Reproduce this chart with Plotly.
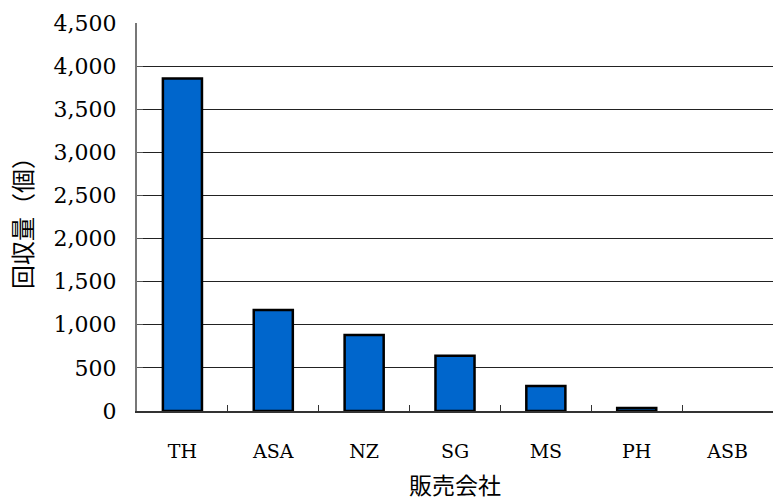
import plotly.graph_objects as go

categories = ["TH", "ASA", "NZ", "SG", "MS", "PH", "ASB"]
values = [3855, 1170, 880, 640, 290, 35, 0]
y_ticks = [0, 500, 1000, 1500, 2000, 2500, 3000, 3500, 4000, 4500]
y_tick_labels = ["0", "500", "1,000", "1,500", "2,000", "2,500", "3,000", "3,500", "4,000", "4,500"]

outline_widths = [2.5 if v > 0 else 0 for v in values]

fig = go.Figure(
    go.Bar(
        x=categories,
        y=values,
        width=0.43,
        marker=dict(color="#0066CC", line=dict(color="#000000", width=outline_widths)),
    )
)

fig.update_layout(
    width=773,
    height=502,
    margin=dict(l=137, r=0, t=23, b=91),
    paper_bgcolor="white",
    plot_bgcolor="white",
    showlegend=False,
    font=dict(family="DejaVu Serif", color="black"),
)

fig.update_yaxes(
    range=[0, 4500],
    tickvals=y_ticks,
    ticktext=y_tick_labels,
    tickfont=dict(family="DejaVu Serif", size=22, color="black"),
    ticks="inside",
    ticklen=6,
    tickcolor="#555555",
    ticklabelstandoff=14,
    showgrid=True,
    gridcolor="#222222",
    gridwidth=1,
    showline=True,
    linecolor="#777777",
    linewidth=2,
    zeroline=False,
    title=dict(text="回収量（個）", font=dict(family="Noto Sans CJK JP", size=24, color="black"), standoff=14),
)

fig.update_xaxes(
    tickfont=dict(family="DejaVu Serif", size=19, color="black"),
    ticks="inside",
    tickson="boundaries",
    ticklen=6,
    tickcolor="#333333",
    ticklabelstandoff=22,
    showline=True,
    linecolor="#333333",
    linewidth=2,
    showgrid=False,
    title=dict(text="販売会社", font=dict(family="Noto Sans CJK JP", size=23, color="black"), standoff=17),
)

fig.write_html("out.html")
